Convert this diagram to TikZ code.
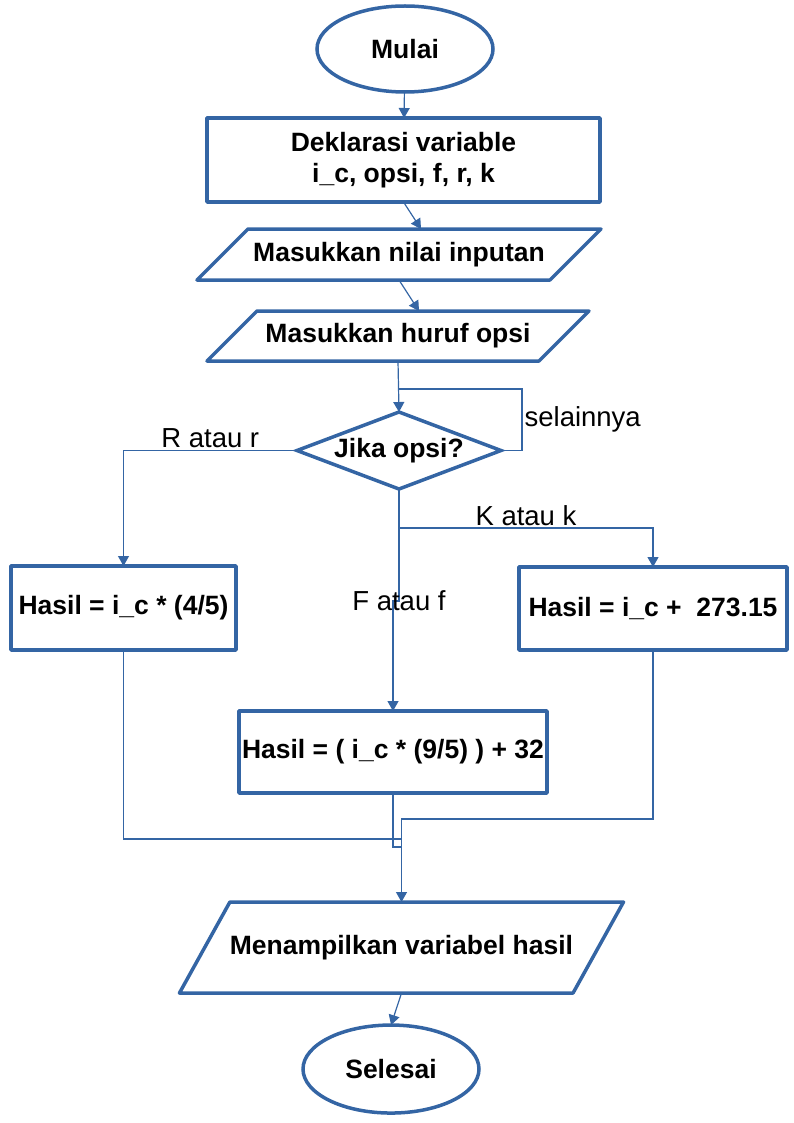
\documentclass[tikz,border=0pt]{standalone}
\usepackage{fontspec}
\setmainfont{Liberation Sans}
\usepackage{xcolor}
\usetikzlibrary{shapes.geometric,positioning,arrows.meta}
\definecolor{flowblue}{HTML}{3465A4}
\tikzset{
  terminal/.style={ % image of the start/end terminal
    ellipse, draw=flowblue, line width=3.5pt,
    minimum width=176pt, minimum height=86pt,
    inner sep=0pt, outer sep=0pt, text=black,
    font=\fontsize{26.5}{31}\selectfont\bfseries
  },
  procbox/.style={ % image of a process box
    rectangle, draw=flowblue, line width=3.5pt, line join=round,
    inner sep=0pt, outer sep=0pt, text=black, align=center,
    font=\fontsize{26.5}{31}\selectfont\bfseries
  },
  iobox/.style={ % image of an input/output box (height from inner ysep)
    trapezium, trapezium stretches body,
    trapezium left angle=45, trapezium right angle=135,
    draw=flowblue, line width=3.5pt, line join=round,
    text height=19pt, text depth=6pt, inner xsep=0pt,
    outer sep=0pt, text=black,
    font=\fontsize{26.5}{31}\selectfont\bfseries
  },
  decbox/.style={ % image of the decision
    diamond, aspect=2.65, draw=flowblue, line width=3.5pt,
    minimum width=204pt, minimum height=77pt,
    inner sep=0pt, outer sep=0pt, text=black,
    font=\fontsize{26.5}{31}\selectfont\bfseries
  },
  conn/.style={
    draw=flowblue, line width=1.2pt, -{Triangle[length=10pt,width=11pt]}
  },
  link/.style={draw=flowblue, line width=1.2pt},
  branch/.style={text=black, inner sep=2pt, font=\fontsize{27.5}{31}\selectfont}
}
\begin{document}
\begin{tikzpicture}[x=1pt, y=1pt]
  \useasboundingbox (0,0) rectangle (794,-1123);

  \node[terminal] (mulai) at (405,-49) {Mulai};
  \node[procbox, minimum width=393pt, minimum height=84pt,
    below=26pt of mulai, xshift=-1.5pt] (deklarasi) {Deklarasi variable\\i\_c, opsi, f, r, k};
  \node[iobox, minimum width=404pt, inner ysep=13pt,
    below=27pt of deklarasi, xshift=-4.5pt] (nilai) {Masukkan nilai inputan};
  \node[iobox, minimum width=382pt, inner ysep=12.5pt,
    below=31pt of nilai, xshift=-1pt] (opsi) {Masukkan huruf opsi};
  \node[decbox, below=51pt of opsi, xshift=1pt] (jika) {Jika opsi?};
  \node[procbox, minimum width=225pt, minimum height=84pt] (hasilR) at (123.5,-608) {Hasil = i\_c * (4/5)};
  \node[procbox, minimum width=268pt, minimum height=83pt] (hasilK) at (653,-608.5) {Hasil = i\_c +\ \ 273.15};
  \node[procbox, minimum width=308pt, minimum height=82pt,
    below=222pt of jika, xshift=-6pt] (hasilF) {Hasil = ( i\_c * (9/5) ) + 32};
  \node[iobox, trapezium left angle=61, trapezium right angle=119,
    minimum width=441pt, inner ysep=33pt,
    below=109pt of hasilF, xshift=8.5pt] (tampil) {Menampilkan variabel hasil};
  \node[terminal, minimum height=88pt, below=32pt of tampil, xshift=-10.5pt] (selesai) {Selesai};

  % helper points for the bent connectors
  \path (jika.north) ++(0,23) coordinate (ulang);
  \path (jika.south) ++(0,-39) coordinate (cabangK);
  \path (tampil.north) ++(0,83) coordinate (gabungK);
  \path (tampil.north) ++(0,63) coordinate (gabungR);
  \path (tampil.north) ++(0,55) coordinate (gabungF);

  \draw[conn] (mulai) -- (deklarasi);
  \draw[conn] (deklarasi.south) -- ([xshift=22pt]nilai.north);
  \draw[conn] (nilai.south) -- ([xshift=21pt]opsi.north);
  \draw[conn] (opsi.south) -- (jika.north);
  \draw[link] (jika.east) -- ++(21,0) |- node[branch, pos=0.25, right] {selainnya} (ulang);
  \draw[conn] (jika.west) -| node[branch, pos=0.25, above] {R atau r} (hasilR.north);
  \draw[link] (jika.south) -- (cabangK);
  \draw[conn] (cabangK) -| node[branch, pos=0.25, above] {K atau k} (hasilK.north);
  \draw[conn] (cabangK) -- ++(0,-73) node[branch] {F atau f} -| (hasilF.north);
  \draw[link] (hasilR.south) |- (gabungR);
  \draw[link] (hasilF.south) |- (gabungF);
  \draw[conn] (hasilK.south) |- (gabungK) -- (tampil.north);
  \draw[conn] (tampil.south) -- (selesai.north);
\end{tikzpicture}
\end{document}
